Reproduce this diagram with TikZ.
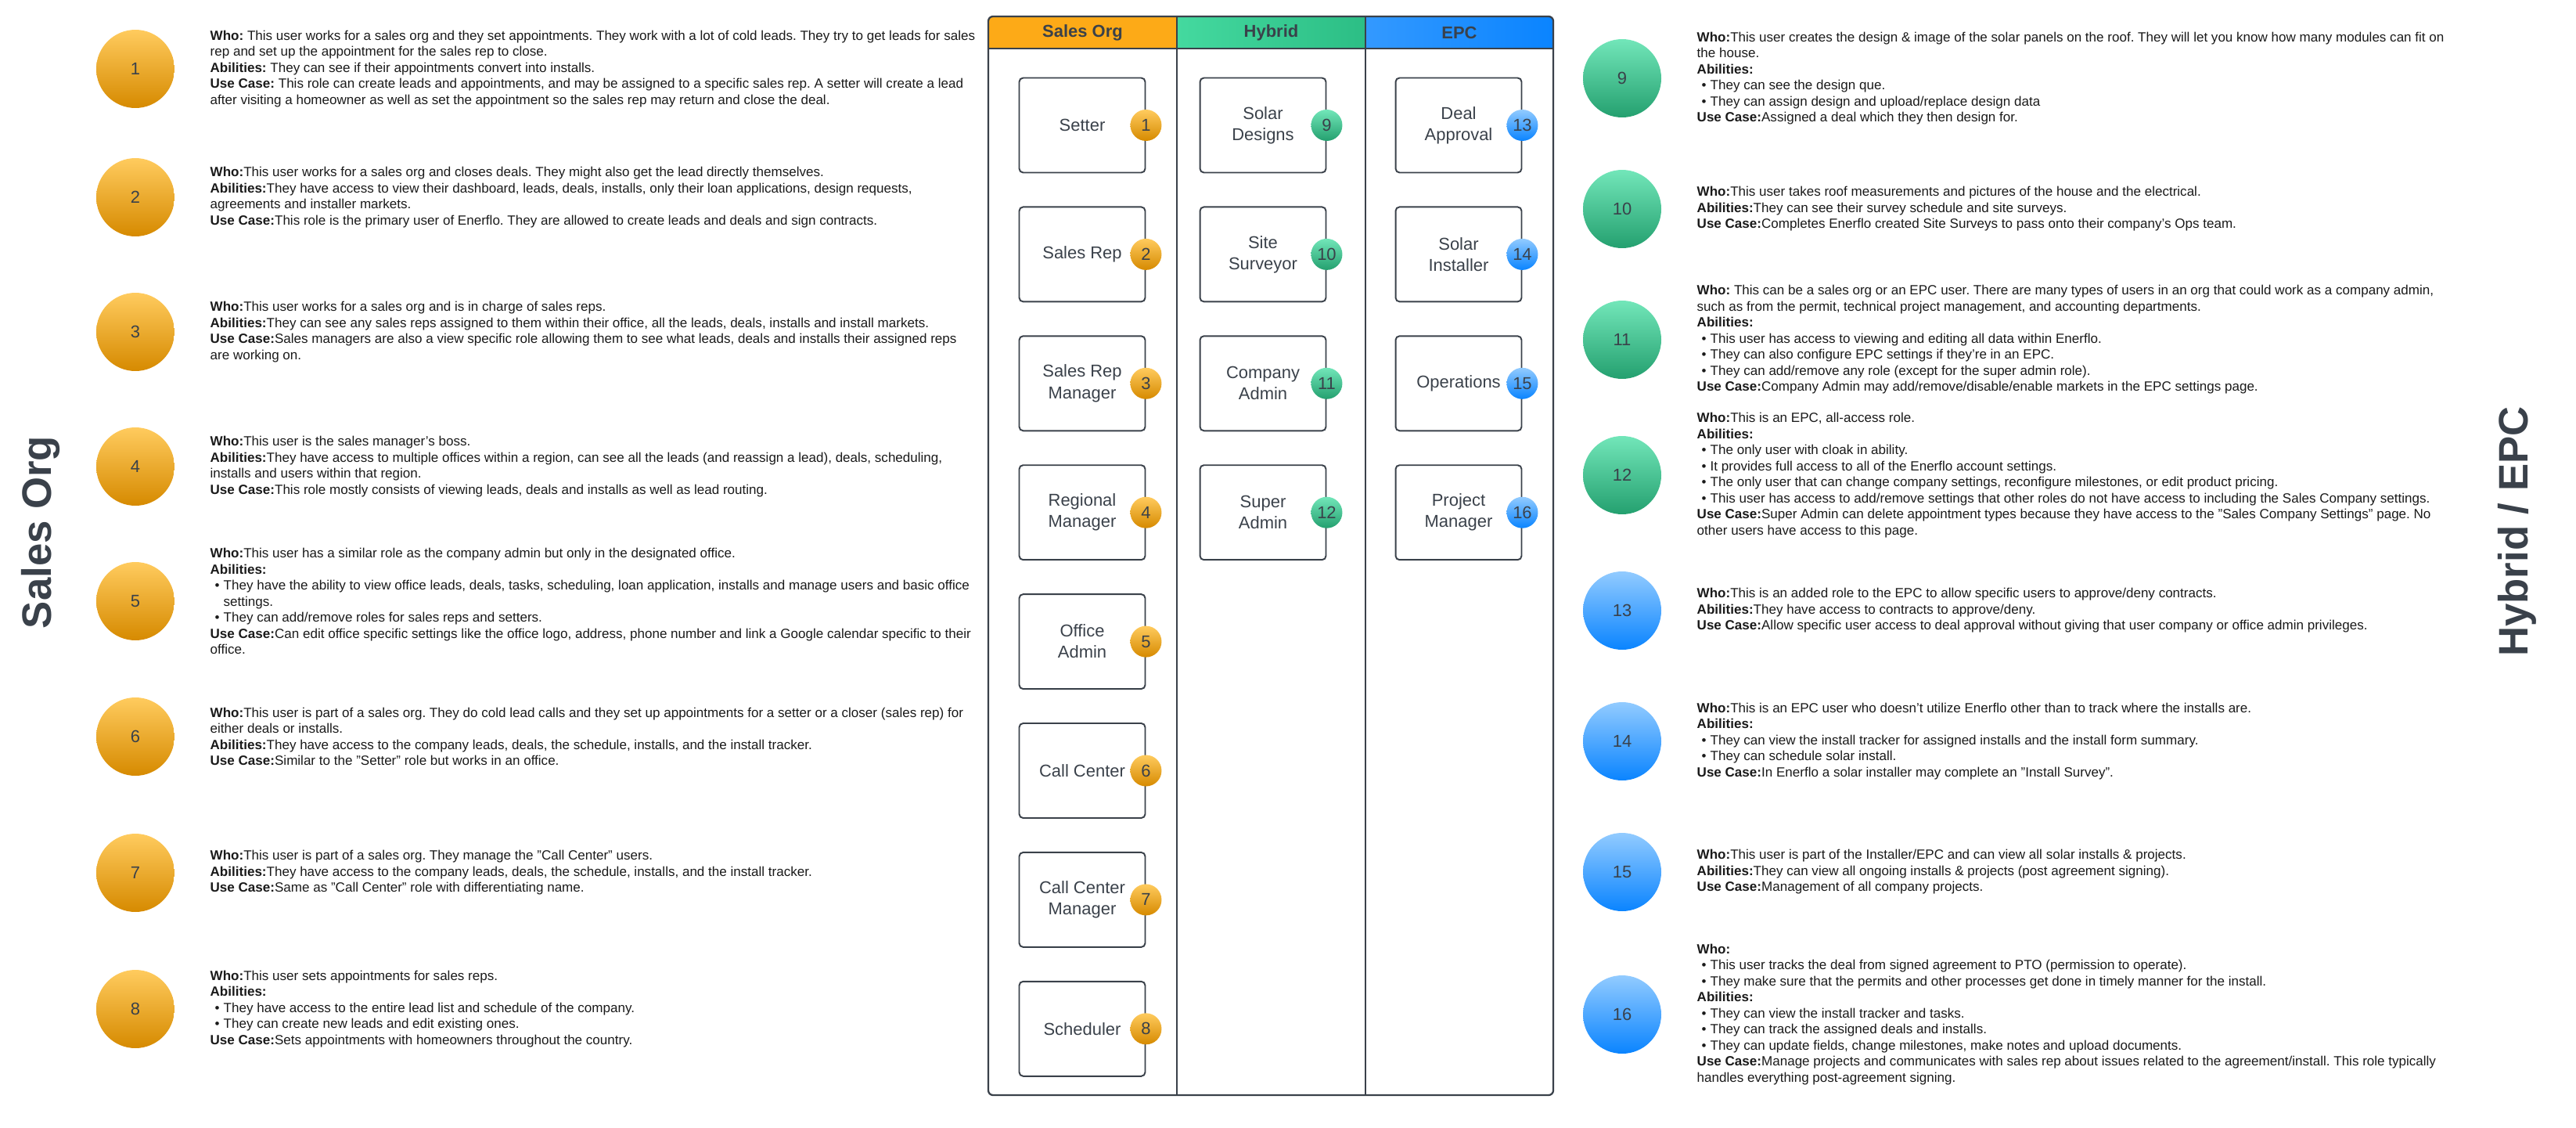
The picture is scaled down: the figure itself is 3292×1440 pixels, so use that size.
\documentclass[tikz,border=0pt]{standalone}
\usepackage{fontspec}
\setmainfont{Liberation Sans}
\usetikzlibrary{positioning}
\frenchspacing

\definecolor{ink}{HTML}{3A414A}
\definecolor{txt}{HTML}{1A1A1A}
\definecolor{orgA}{HTML}{FFCB5E}
\definecolor{orgB}{HTML}{F9A713}
\definecolor{orgC}{HTML}{D68A00}
\definecolor{grnA}{HTML}{72E6B9}
\definecolor{grnB}{HTML}{3AD499}
\definecolor{grnC}{HTML}{24A06F}
\definecolor{bluA}{HTML}{92CBFF}
\definecolor{bluB}{HTML}{3B9DFF}
\definecolor{bluC}{HTML}{0A84FF}
\definecolor{headS}{HTML}{FDAA17}
\definecolor{headHa}{HTML}{44D99F}
\definecolor{headHb}{HTML}{2CBE85}
\definecolor{headEa}{HTML}{3399FF}
\definecolor{headEb}{HTML}{0A84FF}

\tikzstyle{role} = [draw=ink, line width=1.1pt, rounded corners=0.1cm, minimum width=3.22cm, minimum height=2.42cm, align=center, text=ink, font=\fontsize{12.5}{15.4}\selectfont]
\tikzstyle{badge} = [circle, minimum size=0.8cm, inner sep=0pt, text=ink, font=\fontsize{12.5}{15}\selectfont]
\tikzstyle{big} = [circle, minimum size=2cm, inner sep=0pt, text=ink, font=\fontsize{12.5}{15}\selectfont]
\tikzstyle{sorg} = [top color=orgA, middle color=orgB, bottom color=orgC]
\tikzstyle{hyb} = [top color=grnA, middle color=grnB, bottom color=grnC]
\tikzstyle{epc} = [top color=bluA, middle color=bluB, bottom color=bluC]
\tikzstyle{desc} = [align=left, inner sep=0pt, text=txt, font=\fontsize{9.7}{11.67}\selectfont]
\tikzstyle{head} = [text=ink, font=\fontsize{12.5}{15}\selectfont\bfseries]
\tikzstyle{side} = [rotate=90, text=ink, font=\fontsize{30}{36}\selectfont\bfseries]

\newcommand{\bul}{\hspace*{0.12cm}\makebox[0.22cm][l]{\textbullet}}
\newcommand{\bulcont}{\hspace*{0.34cm}}

\begin{document}
\begin{tikzpicture}[x=0.02cm, y=-0.02cm]
  \useasboundingbox (0,0) rectangle (3292,1440);

  % side titles
  \node[side] (so) at (52,680) {Sales Org};
  \node[side] (he) at (3217,679) {Hybrid / EPC};

  % table frame
  \begin{scope}
    \clip[rounded corners=0.12cm] (1263,21) rectangle (1985,1399);
    \fill[headS] (1263,21) rectangle (1504,62);
    \shade[left color=headHa, right color=headHb] (1504,21) rectangle (1745,62);
    \shade[left color=headEa, right color=headEb] (1745,21) rectangle (1985,62);
  \end{scope}
  \draw[ink, line width=1.3pt, rounded corners=0.12cm] (1263,21) rectangle (1985,1399);
  \draw[ink, line width=1.3pt] (1263,62) -- (1985,62);
  \draw[ink, line width=1.3pt] (1504,21) -- (1504,1399);
  \draw[ink, line width=1.3pt] (1745,21) -- (1745,1399);
  \node[head] (hs) at (1383.5,41.5) {Sales Org};
  \node[head] (hh) at (1624.5,41.5) {Hybrid};
  \node[head] (hp) at (1865,41.5) {EPC};

  % sales org column
  \node[role] (r1) at (1383,160) {Setter};
  \node[role, below=0.84cm of r1] (r2) {Sales Rep};
  \node[role, below=0.84cm of r2] (r3) {Sales Rep\\Manager};
  \node[role, below=0.84cm of r3] (r4) {Regional\\Manager};
  \node[role, below=0.84cm of r4] (r5) {Office\\Admin};
  \node[role, below=0.84cm of r5] (r6) {Call Center};
  \node[role, below=0.84cm of r6] (r7) {Call Center\\Manager};
  \node[role, below=0.84cm of r7] (r8) {Scheduler};
  % hybrid column
  \node[role] (r9) at (1614,160) {Solar\\Designs};
  \node[role, below=0.84cm of r9] (r10) {Site\\Surveyor};
  \node[role, below=0.84cm of r10] (r11) {Company\\Admin};
  \node[role, below=0.84cm of r11] (r12) {Super\\Admin};
  % epc column
  \node[role] (r13) at (1864,160) {Deal\\Approval};
  \node[role, below=0.84cm of r13] (r14) {Solar\\Installer};
  \node[role, below=0.84cm of r14] (r15) {Operations};
  \node[role, below=0.84cm of r15] (r16) {Project\\Manager};

  \node[badge, sorg] (n1) at (r1.east) {1};
  \node[badge, sorg] (n2) at (r2.east) {2};
  \node[badge, sorg] (n3) at (r3.east) {3};
  \node[badge, sorg] (n4) at (r4.east) {4};
  \node[badge, sorg] (n5) at (r5.east) {5};
  \node[badge, sorg] (n6) at (r6.east) {6};
  \node[badge, sorg] (n7) at (r7.east) {7};
  \node[badge, sorg] (n8) at (r8.east) {8};
  \node[badge, hyb] (n9) at (r9.east) {9};
  \node[badge, hyb] (n10) at (r10.east) {10};
  \node[badge, hyb] (n11) at (r11.east) {11};
  \node[badge, hyb] (n12) at (r12.east) {12};
  \node[badge, epc] (n13) at (r13.east) {13};
  \node[badge, epc] (n14) at (r14.east) {14};
  \node[badge, epc] (n15) at (r15.east) {15};
  \node[badge, epc] (n16) at (r16.east) {16};

  % left descriptions
  \node[big, sorg] (c1) at (173,88) {1};
  \node[desc, right=0.9cm of c1] (t1) {\textbf{Who:} This user works for a sales org and they set appointments. They work with a lot of cold leads. They try to get leads for sales\\
    rep and set up the appointment for the sales rep to close.\\
    \textbf{Abilities:} They can see if their appointments convert into installs.\\
    \textbf{Use Case:} This role can create leads and appointments, and may be assigned to a specific sales rep. A setter will create a lead\\
    after visiting a homeowner as well as set the appointment so the sales rep may return and close the deal.};

  \node[big, sorg] (c2) at (173,252) {2};
  \node[desc, right=0.9cm of c2] (t2) {\textbf{Who:}This user works for a sales org and closes deals. They might also get the lead directly themselves.\\
    \textbf{Abilities:}They have access to view their dashboard, leads, deals, installs, only their loan applications, design requests,\\
    agreements and installer markets.\\
    \textbf{Use Case:}This role is the primary user of Enerflo. They are allowed to create leads and deals and sign contracts.};

  \node[big, sorg] (c3) at (173,424) {3};
  \node[desc, right=0.9cm of c3] (t3) {\textbf{Who:}This user works for a sales org and is in charge of sales reps.\\
    \textbf{Abilities:}They can see any sales reps assigned to them within their office, all the leads, deals, installs and install markets.\\
    \textbf{Use Case:}Sales managers are also a view specific role allowing them to see what leads, deals and installs their assigned reps\\
    are working on.};

  \node[big, sorg] (c4) at (173,596) {4};
  \node[desc, right=0.9cm of c4] (t4) {\textbf{Who:}This user is the sales manager's boss.\\
    \textbf{Abilities:}They have access to multiple offices within a region, can see all the leads (and reassign a lead), deals, scheduling,\\
    installs and users within that region.\\
    \textbf{Use Case:}This role mostly consists of viewing leads, deals and installs as well as lead routing.};

  \node[big, sorg] (c5) at (173,768) {5};
  \node[desc, right=0.9cm of c5] (t5) {\textbf{Who:}This user has a similar role as the company admin but only in the designated office.\\
    \textbf{Abilities:}\\
    \bul They have the ability to view office leads, deals, tasks, scheduling, loan application, installs and manage users and basic office\\
    \bulcont settings.\\
    \bul They can add/remove roles for sales reps and setters.\\
    \textbf{Use Case:}Can edit office specific settings like the office logo, address, phone number and link a Google calendar specific to their\\
    office.};

  \node[big, sorg] (c6) at (173,941) {6};
  \node[desc, right=0.9cm of c6] (t6) {\textbf{Who:}This user is part of a sales org. They do cold lead calls and they set up appointments for a setter or a closer (sales rep) for\\
    either deals or installs.\\
    \textbf{Abilities:}They have access to the company leads, deals, the schedule, installs, and the install tracker.\\
    \textbf{Use Case:}Similar to the "Setter" role but works in an office.};

  \node[big, sorg] (c7) at (173,1115) {7};
  \node[desc, right=0.9cm of c7] (t7) {\textbf{Who:}This user is part of a sales org. They manage the "Call Center" users.\\
    \textbf{Abilities:}They have access to the company leads, deals, the schedule, installs, and the install tracker.\\
    \textbf{Use Case:}Same as "Call Center" role with differentiating name.};

  \node[big, sorg] (c8) at (173,1289) {8};
  \node[desc, right=0.9cm of c8] (t8) {\textbf{Who:}This user sets appointments for sales reps.\\
    \textbf{Abilities:}\\
    \bul They have access to the entire lead list and schedule of the company.\\
    \bul They can create new leads and edit existing ones.\\
    \textbf{Use Case:}Sets appointments with homeowners throughout the country.};

  % right descriptions
  \node[big, hyb] (c9) at (2073,100) {9};
  \node[desc, right=0.9cm of c9] (t9) {\textbf{Who:}This user creates the design \& image of the solar panels on the roof. They will let you know how many modules can fit on\\
    the house.\\
    \textbf{Abilities:}\\
    \bul They can see the design que.\\
    \bul They can assign design and upload/replace design data\\
    \textbf{Use Case:}Assigned a deal which they then design for.};

  \node[big, hyb] (c10) at (2073,267) {10};
  \node[desc, right=0.9cm of c10] (t10) {\textbf{Who:}This user takes roof measurements and pictures of the house and the electrical.\\
    \textbf{Abilities:}They can see their survey schedule and site surveys.\\
    \textbf{Use Case:}Completes Enerflo created Site Surveys to pass onto their company's Ops team.};

  \node[big, hyb] (c11) at (2073,434) {11};
  \node[desc, right=0.9cm of c11] (t11) {\textbf{Who:} This can be a sales org or an EPC user. There are many types of users in an org that could work as a company admin,\\
    such as from the permit, technical project management, and accounting departments.\\
    \textbf{Abilities:}\\
    \bul This user has access to viewing and editing all data within Enerflo.\\
    \bul They can also configure EPC settings if they're in an EPC.\\
    \bul They can add/remove any role (except for the super admin role).\\
    \textbf{Use Case:}Company Admin may add/remove/disable/enable markets in the EPC settings page.};

  \node[big, hyb] (c12) at (2073,607) {12};
  \node[desc, right=0.9cm of c12] (t12) {\textbf{Who:}This is an EPC, all-access role.\\
    \textbf{Abilities:}\\
    \bul The only user with cloak in ability.\\
    \bul It provides full access to all of the Enerflo account settings.\\
    \bul The only user that can change company settings, reconfigure milestones, or edit product pricing.\\
    \bul This user has access to add/remove settings that other roles do not have access to including the Sales Company settings.\\
    \textbf{Use Case:}Super Admin can delete appointment types because they have access to the "Sales Company Settings" page. No\\
    other users have access to this page.};

  \node[big, epc] (c13) at (2073,780) {13};
  \node[desc, right=0.9cm of c13] (t13) {\textbf{Who:}This is an added role to the EPC to allow specific users to approve/deny contracts.\\
    \textbf{Abilities:}They have access to contracts to approve/deny.\\
    \textbf{Use Case:}Allow specific user access to deal approval without giving that user company or office admin privileges.};

  \node[big, epc] (c14) at (2073,947) {14};
  \node[desc, right=0.9cm of c14] (t14) {\textbf{Who:}This is an EPC user who doesn't utilize Enerflo other than to track where the installs are.\\
    \textbf{Abilities:}\\
    \bul They can view the install tracker for assigned installs and the install form summary.\\
    \bul They can schedule solar install.\\
    \textbf{Use Case:}In Enerflo a solar installer may complete an "Install Survey".};

  \node[big, epc] (c15) at (2073,1114) {15};
  \node[desc, right=0.9cm of c15] (t15) {\textbf{Who:}This user is part of the Installer/EPC and can view all solar installs \& projects.\\
    \textbf{Abilities:}They can view all ongoing installs \& projects (post agreement signing).\\
    \textbf{Use Case:}Management of all company projects.};

  \node[big, epc] (c16) at (2073,1296) {16};
  \node[desc, right=0.9cm of c16] (t16) {\textbf{Who:}\\
    \bul This user tracks the deal from signed agreement to PTO (permission to operate).\\
    \bul They make sure that the permits and other processes get done in timely manner for the install.\\
    \textbf{Abilities:}\\
    \bul They can view the install tracker and tasks.\\
    \bul They can track the assigned deals and installs.\\
    \bul They can update fields, change milestones, make notes and upload documents.\\
    \textbf{Use Case:}Manage projects and communicates with sales rep about issues related to the agreement/install. This role typically\\
    handles everything post-agreement signing.};
\end{tikzpicture}
\end{document}
